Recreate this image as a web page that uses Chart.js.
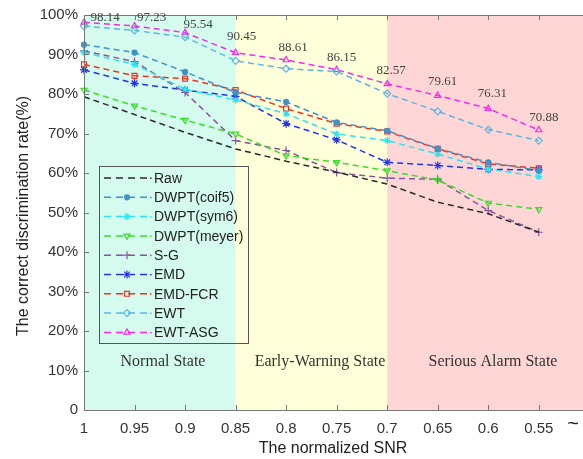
<!DOCTYPE html>
<html lang="en">
<head>
    <meta charset="UTF-8">
    <title>Correct discrimination rate vs normalized SNR</title>
    <script src="https://cdn.jsdelivr.net/npm/chart.js"></script>
    <style>
        body {
            margin: 0;
            background-color: #ffffff;
            overflow: hidden;
        }
        .chart-container {
            width: 583px;
            height: 459px;
        }
    </style>
</head>
<body>
    <div class="chart-container">
        <canvas id="lineChart"></canvas>
    </div>

    <script>
        // x positions (normalized SNR) and tick labels
        const snr = [1, 0.95, 0.9, 0.85, 0.8, 0.75, 0.7, 0.65, 0.6, 0.55];
        const xTickLabels = ['1', '0.95', '0.9', '0.85', '0.8', '0.75', '0.7', '0.65', '0.6', '0.55'];
        const yTicks = [0, 10, 20, 30, 40, 50, 60, 70, 80, 90, 100];

        // correct discrimination rate (%) per method
        const raw    = [79.3, 74.8, 70.3, 66.1, 63.0, 60.2, 57.2, 52.6, 49.7, 45.0];
        const coif5  = [92.5, 90.5, 85.6, 80.4, 78.0, 72.8, 70.7, 66.2, 62.7, 60.6];
        const sym6   = [90.5, 87.5, 81.2, 78.5, 75.0, 69.9, 68.2, 64.8, 61.0, 59.1];
        const meyer  = [81.0, 77.0, 73.4, 69.9, 64.4, 62.7, 60.6, 58.2, 52.4, 50.8];
        const sg     = [90.9, 88.2, 80.4, 68.2, 65.7, 60.1, 58.7, 58.4, 50.5, 45.0];
        const emd    = [86.1, 82.7, 81.0, 79.4, 72.5, 68.4, 62.7, 61.9, 60.9, 60.8];
        const emdFcr = [87.5, 84.6, 83.9, 81.0, 76.3, 72.5, 70.5, 66.1, 62.3, 61.2];
        const ewt    = [97.2, 96.1, 94.4, 88.4, 86.4, 85.7, 80.1, 75.6, 71.0, 68.2];
        const ewtAsg = [98.14, 97.23, 95.54, 90.45, 88.61, 86.15, 82.57, 79.61, 76.31, 70.88];

        // state regions along the SNR axis
        const regionEdges = [1, 0.85, 0.7, 0.4];
        const regionNames = ['Normal State', 'Early-Warning State', 'Serious Alarm State'];
        const regionColors = ['#d5fbee', '#ffffd9', '#ffd6d6'];

        // label offsets for the EWT-ASG value labels (px)
        const labelDx = [21, 17, 13, 6, 7, 5, 4, 5, 4, 5];
        const labelDy = [-5, -8, -8, -16, -12, -12, -13, -14, -15, -12];

        const series = [
            { label: 'Raw',         data: raw,    color: '#2a2a2a', style: false,       r: 0 },
            { label: 'DWPT(coif5)', data: coif5,  color: '#3f93c9', style: 'circle',    r: 2.5 },
            { label: 'DWPT(sym6)',  data: sym6,   color: '#2ee3ee', style: 'star',      r: 3.5 },
            { label: 'DWPT(meyer)', data: meyer,  color: '#3ddc2a', style: 'triangle',  r: 3.5, rot: 180 },
            { label: 'S-G',         data: sg,     color: '#8b559c', style: 'cross',     r: 4 },
            { label: 'EMD',         data: emd,    color: '#2233ee', style: 'star',      r: 4 },
            { label: 'EMD-FCR',     data: emdFcr, color: '#ee3322', style: 'rect',      r: 3.5 },
            { label: 'EWT',         data: ewt,    color: '#5cb5e3', style: 'rectRot',   r: 3.5 },
            { label: 'EWT-ASG',     data: ewtAsg, color: '#f52aea', style: 'triangle',  r: 3.5 }
        ];

        function drawMarker(ctx, s, x, y) {
            if (!s.style) return;
            const opts = { pointStyle: s.style, radius: s.r, rotation: s.rot || 0, borderWidth: 1.2 };
            ctx.save();
            ctx.strokeStyle = s.color;
            ctx.fillStyle = s.style === 'circle' || s.label === 'EMD' ? s.color : 'rgba(0,0,0,0)';
            ctx.lineWidth = 1.2;
            ctx.setLineDash([]);
            Chart.helpers.drawPoint(ctx, opts, x, y);
            ctx.restore();
        }

        const decor = {
            id: 'decor',
            beforeDatasetsDraw(chart) {
                const { ctx, chartArea: a, scales: { x } } = chart;
                ctx.save();
                for (let i = 0; i < regionNames.length; i++) {
                    const x0 = x.getPixelForValue(regionEdges[i]);
                    const x1 = Math.min(x.getPixelForValue(regionEdges[i + 1]), chart.width);
                    ctx.fillStyle = regionColors[i];
                    ctx.fillRect(x0, a.top, x1 - x0, a.bottom - a.top);
                }
                ctx.fillStyle = '#333';
                ctx.font = '16px "Liberation Serif", "Times New Roman", serif';
                ctx.textAlign = 'center';
                ctx.textBaseline = 'middle';
                const labelX = [163, 320, 493];
                regionNames.forEach((n, i) => ctx.fillText(n, labelX[i], 362));
                ctx.restore();
            },
            afterDatasetsDraw(chart) {
                const { ctx, chartArea: a, scales: { x, y } } = chart;
                const right = chart.width;
                ctx.save();
                // frame
                ctx.strokeStyle = '#777';
                ctx.lineWidth = 1;
                ctx.beginPath();
                ctx.moveTo(right, a.top + 0.5);
                ctx.lineTo(a.left + 0.5, a.top + 0.5);
                ctx.lineTo(a.left + 0.5, a.bottom + 0.5);
                ctx.lineTo(right, a.bottom + 0.5);
                ctx.stroke();
                // inward ticks
                ctx.beginPath();
                snr.forEach(v => {
                    const px = Math.round(x.getPixelForValue(v)) + 0.5;
                    ctx.moveTo(px, a.bottom); ctx.lineTo(px, a.bottom - 5);
                    ctx.moveTo(px, a.top); ctx.lineTo(px, a.top + 5);
                });
                yTicks.forEach(v => {
                    const py = Math.round(y.getPixelForValue(v)) + 0.5;
                    ctx.moveTo(a.left, py); ctx.lineTo(a.left + 5, py);
                });
                ctx.stroke();

                // EWT-ASG value labels
                ctx.fillStyle = '#444';
                ctx.font = '13px "Liberation Serif", "Times New Roman", serif';
                ctx.textAlign = 'center';
                ctx.textBaseline = 'middle';
                ewtAsg.forEach((v, i) => {
                    const px = x.getPixelForValue(snr[i]);
                    const py = y.getPixelForValue(v);
                    ctx.fillText(v.toFixed(2), px + labelDx[i], py + labelDy[i]);
                });

                // legend
                ctx.strokeStyle = '#555';
                ctx.lineWidth = 1;
                ctx.setLineDash([]);
                ctx.strokeRect(99.5, 166.5, 149, 177);
                ctx.font = '14px "Liberation Sans", Arial, sans-serif';
                ctx.textAlign = 'left';
                series.forEach((s, i) => {
                    const ly = 178 + i * 19.3;
                    ctx.strokeStyle = s.color;
                    ctx.lineWidth = 1.5;
                    ctx.setLineDash([7, 5]);
                    ctx.beginPath();
                    ctx.moveTo(104, ly); ctx.lineTo(148, ly);
                    ctx.stroke();
                    ctx.setLineDash([]);
                    ctx.fillStyle = s.color;
                    ctx.fillRect(150, ly - 0.5, 1.5, 1.5);
                    drawMarker(ctx, s, 127, ly);
                    ctx.fillStyle = '#222';
                    ctx.fillText(s.label, 154, ly + 1);
                });

                // axis titles
                ctx.fillStyle = '#222';
                ctx.font = '16px "Liberation Sans", Arial, sans-serif';
                ctx.textAlign = 'center';
                ctx.fillText('The normalized SNR', 333, 449);
                ctx.save();
                ctx.translate(24, 216);
                ctx.rotate(-Math.PI / 2);
                ctx.fillText('The correct discrimination rate(%)', 0, 0);
                ctx.restore();
                ctx.font = '20px "Liberation Sans", Arial, sans-serif';
                ctx.fillText('~', 573, 424);
                ctx.restore();
            }
        };

        const ctx = document.getElementById('lineChart').getContext('2d');
        new Chart(ctx, {
            type: 'line',
            data: {
                datasets: series.map(s => ({
                    label: s.label,
                    data: s.data.map((v, i) => ({ x: snr[i], y: v })),
                    borderColor: s.color,
                    backgroundColor: s.color,
                    borderWidth: 1.5,
                    borderDash: [6, 4],
                    tension: 0,
                    fill: false,
                    clip: false,
                    pointStyle: s.style || 'circle',
                    pointRadius: s.r,
                    pointRotation: s.rot || 0,
                    pointBorderWidth: 1.2,
                    pointBorderColor: s.color,
                    pointBackgroundColor: (s.style === 'circle' || s.label === 'EMD') ? s.color : 'rgba(0,0,0,0)'
                }))
            },
            options: {
                responsive: true,
                maintainAspectRatio: false,
                animation: false,
                layout: { padding: { top: 14, right: 0, left: 0, bottom: 0 } },
                plugins: {
                    legend: { display: false },
                    tooltip: { enabled: false }
                },
                scales: {
                    x: {
                        type: 'linear',
                        reverse: true,
                        min: 0.5114,
                        max: 1,
                        afterBuildTicks: axis => { axis.ticks = snr.map(v => ({ value: v })); },
                        afterFit: axis => { axis.height = 49; },
                        grid: { display: false, drawTicks: false },
                        border: { display: false },
                        ticks: {
                            padding: 10,
                            color: '#333',
                            font: { size: 15, family: '"Liberation Sans", Arial, sans-serif' },
                            maxRotation: 0,
                            autoSkip: false,
                            callback: v => xTickLabels[snr.indexOf(v)]
                        }
                    },
                    y: {
                        min: 0,
                        max: 100,
                        afterBuildTicks: axis => { axis.ticks = yTicks.map(v => ({ value: v })); },
                        afterFit: axis => { axis.width = 84; },
                        grid: { display: false, drawTicks: false },
                        border: { display: false },
                        ticks: {
                            padding: 6,
                            color: '#333',
                            font: { size: 15, family: '"Liberation Sans", Arial, sans-serif' },
                            callback: v => v === 0 ? '0' : v + '%'
                        }
                    }
                }
            },
            plugins: [decor]
        });
    </script>
</body>
</html>
